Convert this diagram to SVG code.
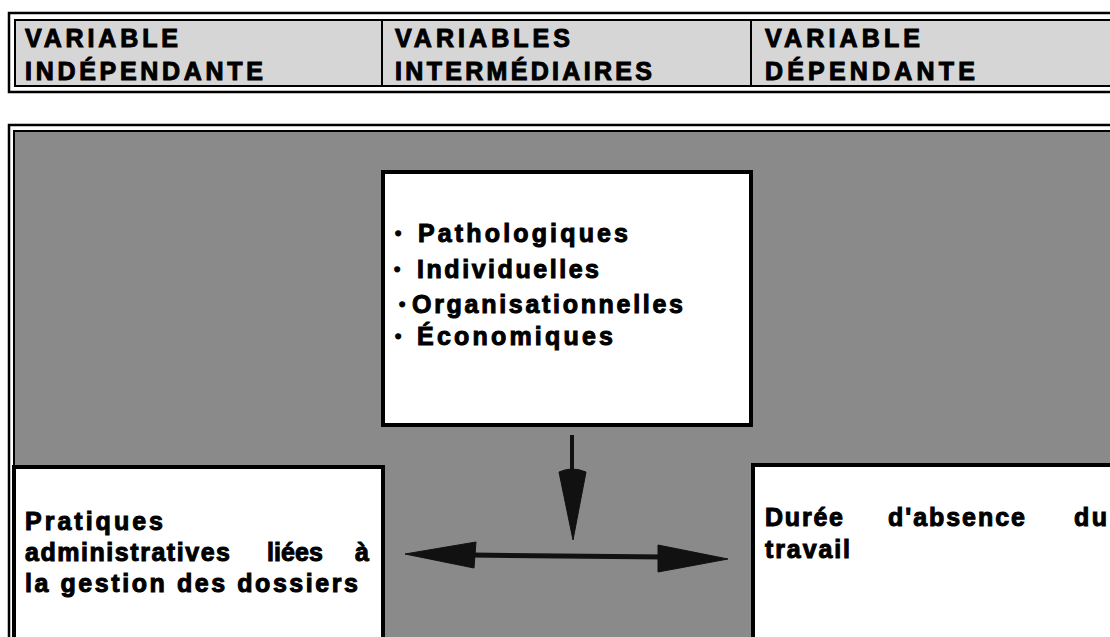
<svg xmlns="http://www.w3.org/2000/svg" width="1110" height="637" viewBox="0 0 1110 637">
  <defs>
    <style>
      .t { font-family: "Liberation Sans", Arial, sans-serif; font-weight: bold; fill: #000; stroke: #000; stroke-width: 1; }
      .hd { font-size: 25px; }
      .bd { font-size: 25px; }
      .bl { font-size: 18px; }
      .box { fill: #fff; stroke: #000; stroke-width: 4; }
    </style>
  </defs>
  <rect width="1110" height="637" fill="#fff"/>

  <!-- Header band -->
  <g id="header">
    <rect x="9" y="13" width="1110" height="79" fill="#fff" stroke="#000" stroke-width="2.5"/>
    <rect x="15" y="20" width="1100" height="66" fill="#d6d6d6" stroke="#000" stroke-width="2"/>
    <line x1="382" y1="20" x2="382" y2="86" stroke="#000" stroke-width="2"/>
    <line x1="751" y1="20" x2="751" y2="86" stroke="#000" stroke-width="2"/>
    <text class="t hd" x="25" y="47" textLength="153" lengthAdjust="spacing">VARIABLE</text>
    <text class="t hd" x="25" y="80" textLength="238" lengthAdjust="spacing">INDÉPENDANTE</text>
    <text class="t hd" x="395" y="47" textLength="175" lengthAdjust="spacing">VARIABLES</text>
    <text class="t hd" x="395" y="80" textLength="257" lengthAdjust="spacing">INTERMÉDIAIRES</text>
    <text class="t hd" x="765" y="47" textLength="155" lengthAdjust="spacing">VARIABLE</text>
    <text class="t hd" x="765" y="80" textLength="210" lengthAdjust="spacing">DÉPENDANTE</text>
  </g>

  <!-- Main panel -->
  <g id="panel">
    <rect x="9" y="125" width="1110" height="520" fill="#fff" stroke="#000" stroke-width="2.5"/>
    <rect x="14" y="131" width="1105" height="520" fill="#8a8a8a" stroke="#000" stroke-width="2"/>
  </g>

  <!-- Intermediate variables box -->
  <g id="intermediaires">
    <rect class="box" x="383" y="172" width="368" height="253"/>
    <text class="t bl" x="395" y="239">•</text>
    <text class="t bd" x="418" y="242" textLength="210" lengthAdjust="spacing">Pathologiques</text>
    <text class="t bl" x="394" y="275">•</text>
    <text class="t bd" x="417" y="278" textLength="182" lengthAdjust="spacing">Individuelles</text>
    <text class="t bl" x="399" y="310">•</text>
    <text class="t bd" x="412" y="313" textLength="271" lengthAdjust="spacing">Organisationnelles</text>
    <text class="t bl" x="395" y="342">•</text>
    <text class="t bd" x="417" y="345" textLength="196" lengthAdjust="spacing">Économiques</text>
  </g>

  <!-- Independent variable box -->
  <g id="independante">
    <rect class="box" x="14" y="467" width="369" height="180"/>
    <text class="t bd" x="25" y="530" textLength="138" lengthAdjust="spacing">Pratiques</text>
    <text class="t bd" x="25" y="561" textLength="205" lengthAdjust="spacing">administratives</text>
    <text class="t bd" x="267" y="561" textLength="56" lengthAdjust="spacing">liées</text>
    <text class="t bd" x="355" y="561">à</text>
    <text class="t bd" x="25" y="592" textLength="333" lengthAdjust="spacing">la gestion des dossiers</text>
  </g>

  <!-- Dependent variable box -->
  <g id="dependante">
    <rect class="box" x="753" y="465" width="370" height="182"/>
    <text class="t bd" x="765" y="526" textLength="78" lengthAdjust="spacing">Durée</text>
    <text class="t bd" x="888" y="526" textLength="137" lengthAdjust="spacing">d'absence</text>
    <text class="t bd" x="1074" y="526" textLength="33" lengthAdjust="spacing">du</text>
    <text class="t bd" x="765" y="558" textLength="85" lengthAdjust="spacing">travail</text>
  </g>

  <!-- Connectors -->
  <g id="connectors" fill="#111" stroke="#111">
    <!-- vertical arrow -->
    <line x1="572" y1="435" x2="572" y2="472" stroke-width="4"/>
    <path d="M559,472 Q572,466 586,472 L573,540 Z" stroke-width="1"/>
    <!-- horizontal double arrow -->
    <line x1="470" y1="555" x2="665" y2="557" stroke-width="5"/>
    <path d="M405,554 L476,542 L474,568 Z" stroke-width="1"/>
    <path d="M728,559 L658,545 L658,572 Z" stroke-width="1"/>
  </g>
</svg>
